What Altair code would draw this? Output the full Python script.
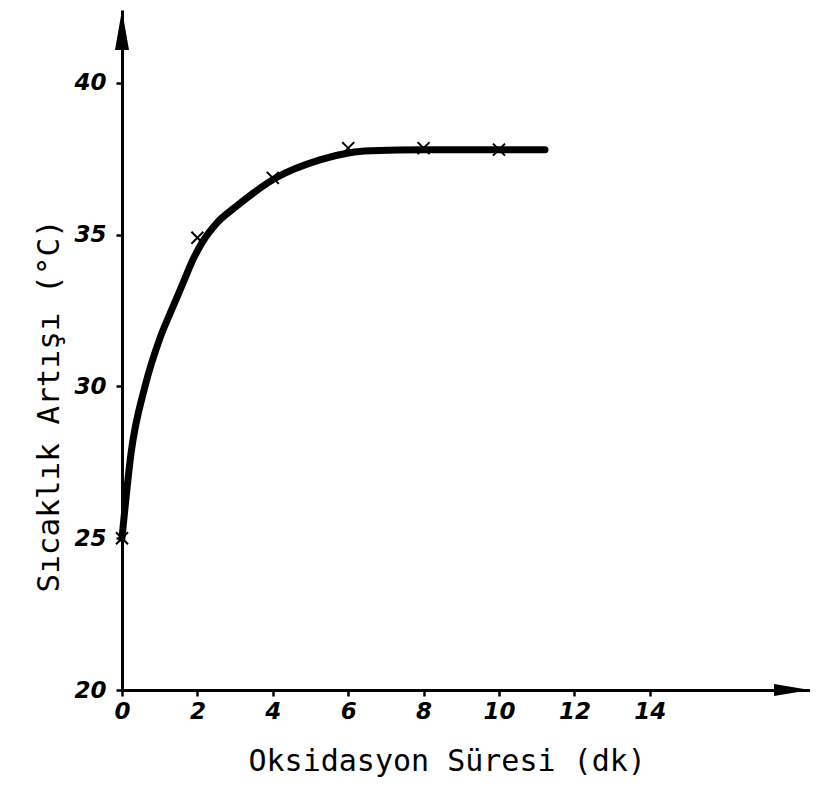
import altair as alt
import pandas as pd

# measured points (x marks)
pt_x = [0, 2, 4, 6, 8, 10]
pt_y = [25.0, 34.9, 36.87, 37.85, 37.85, 37.8]

# drawn curve
cv_x = [0, 0.24, 0.61, 1.01, 1.35, 1.62, 1.88, 2.12, 2.52, 3.0, 4.1, 5.25, 6.05, 6.6, 8, 10, 11.22]
cv_y = [25, 27.8, 30.0, 31.6, 32.62, 33.41, 34.17, 34.73, 35.39, 35.9, 36.88, 37.46, 37.7, 37.76, 37.8, 37.8, 37.8]

x_ticks = [0, 2, 4, 6, 8, 10, 12, 14]
y_ticks = [20, 25, 30, 35, 40]

x_title = "Oksidasyon Süresi (dk)"
y_title = "Sıcaklık Artışı (°C)"

W, H = 688, 680
X_MAX = 18.25
Y_MAX = 42.4

pts = pd.DataFrame({"x": pt_x, "y": pt_y})
curve = pd.DataFrame({"x": cv_x, "y": cv_y, "o": list(range(len(cv_x)))})

xs = alt.Scale(domain=[0, X_MAX], nice=False, zero=False)
ys = alt.Scale(domain=[20, Y_MAX], nice=False, zero=False)

x_axis = alt.Axis(
    values=x_ticks, title=x_title, labelPadding=4, tickSize=6,
    labelFlush=False, labelOverlap=False,
    titleAnchor="start", titleX=126, titleY=80, titleBaseline="alphabetic",
    titleFontSize=30,
)
y_axis = alt.Axis(
    values=y_ticks, title=y_title, labelPadding=10, tickSize=6,
    labelFlush=False, labelOverlap=False,
    titleAnchor="start", titleAngle=-90, titleX=-64, titleY=582,
    titleBaseline="alphabetic", titleFontSize=31,
)

line = alt.Chart(curve).mark_line(
    color="black", strokeWidth=7, interpolate="monotone", strokeCap="round"
).encode(
    x=alt.X("x:Q", scale=xs, axis=x_axis),
    y=alt.Y("y:Q", scale=ys, axis=y_axis),
    order="o:Q",
)

marks = alt.Chart(pts).mark_point(
    shape="M-1,-1L1,1M-1,1L1,-1", size=144, filled=False,
    stroke="black", strokeWidth=2, opacity=1,
).encode(x=alt.X("x:Q", scale=xs), y=alt.Y("y:Q", scale=ys))

one = pd.DataFrame({"a": [0]})
up_arrow = alt.Chart(one).mark_point(
    shape="M0,-1L0.35,1L-0.35,1Z", size=1600, filled=True,
    color="black", opacity=1,
).encode(x=alt.value(0), y=alt.value(20))

right_arrow = alt.Chart(one).mark_point(
    shape="M1,0L-1,0.34L-1,-0.34Z", size=1296, filled=True,
    color="black", opacity=1,
).encode(x=alt.value(W - 18), y=alt.value(H))

chart = alt.layer(line, marks, up_arrow, right_arrow).properties(
    width=W, height=H,
    autosize=alt.AutoSizeParams(type="none"),
    padding={"left": 114, "top": 2, "right": 0, "bottom": 96},
).configure_view(stroke=None).configure_axis(
    grid=False,
    domainColor="black", domainWidth=3,
    tickColor="black", tickWidth=2.5,
    labelColor="black", labelFont="DejaVu Sans", labelFontSize=23,
    labelFontStyle="italic", labelFontWeight="bold",
    titleColor="black", titleFont="DejaVu Sans Mono",
    titleFontWeight="normal",
)

chart.save("out.html", embed_options={"renderer": "svg", "actions": False})
